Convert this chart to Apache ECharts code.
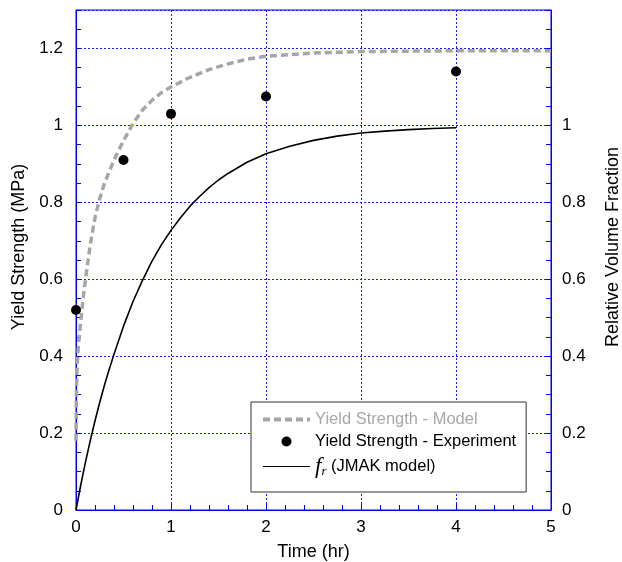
<!DOCTYPE html>
<html><head><meta charset="utf-8">
<script src="https://cdn.jsdelivr.net/npm/echarts/dist/echarts.min.js"></script>
<style>html,body{margin:0;padding:0;background:#fff}#c{width:622px;height:562px}</style>
</head><body><div id="c"></div>
<script>
const xTickLabels = ['0','1','2','3','4','5'];
const leftTickLabels = ['0','0.2','0.4','0.6','0.8','1','1.2'];
const rightTickLabels = ['0','0.2','0.4','0.6','0.8','1'];

const modelTime  = [0, 0.005, 0.01, 0.02, 0.03, 0.05, 0.075, 0.1, 0.15, 0.2, 0.25, 0.3, 0.4, 0.5, 0.6, 0.7, 0.8, 0.9, 1.0, 1.2, 1.4, 1.6, 1.8, 2.0, 2.5, 3.0, 3.5, 4.0, 4.5, 5.0];
const modelYield = [0.18, 0.31, 0.36, 0.41, 0.44, 0.49, 0.55, 0.60, 0.69, 0.76, 0.81, 0.85, 0.91, 0.96, 1.005, 1.04, 1.065, 1.085, 1.10, 1.125, 1.145, 1.16, 1.172, 1.18, 1.188, 1.192, 1.193, 1.194, 1.194, 1.194];

const expTime  = [0, 0.5, 1, 2, 4];
const expYield = [0.52, 0.91, 1.03, 1.075, 1.14];

const jmakTime     = [0, 0.05, 0.1, 0.15, 0.2, 0.25, 0.3, 0.35, 0.4, 0.5, 0.6, 0.7, 0.8, 0.9, 1.0, 1.1, 1.2, 1.3, 1.4, 1.5, 1.6, 1.8, 2.0, 2.25, 2.5, 2.75, 3.0, 3.25, 3.5, 3.75, 4.0];
const jmakFraction = [0, 0.065, 0.125, 0.18, 0.232, 0.28, 0.325, 0.366, 0.405, 0.478, 0.542, 0.597, 0.647, 0.69, 0.727, 0.76, 0.79, 0.815, 0.838, 0.858, 0.875, 0.904, 0.926, 0.946, 0.961, 0.972, 0.98, 0.985, 0.989, 0.992, 0.994];

const names = ['Yield Strength - Model', 'Yield Strength - Experiment', 'JMAK'];

function lookup(labels) {
  return function (v) {
    for (const s of labels) if (Math.abs(Number(s) - v) < 1e-6) return s;
    return '';
  };
}
function pairs(xs, ys) { return xs.map((x, i) => [x, ys[i]]); }

const BLUE = '#0000ff';
const FONT = 'Liberation Sans, Arial, Helvetica, sans-serif';
const GRIDC = '#1a1aff';
const CLEAR = 'rgba(0,0,0,0)';

const chart = echarts.init(document.getElementById('c'), null, { renderer: 'canvas' });
chart.setOption({
  animation: false,
  backgroundColor: '#fff',
  textStyle: { fontFamily: FONT },
  grid: { left: 76, right: 71, top: 10, bottom: 52, containLabel: false, outerBoundsMode: 'none',
          show: true, borderColor: BLUE, borderWidth: 1, backgroundColor: 'transparent' },
  legend: {
    orient: 'vertical', left: 251, top: 402,
    backgroundColor: '#fff', borderColor: '#333', borderWidth: 1,
    padding: [9, 10, 14, 10], itemWidth: 47, itemHeight: 10, itemGap: 5,
    textStyle: {
      fontFamily: FONT, fontSize: 16.5, color: '#000',
      rich: {
        f: { fontFamily: 'Liberation Serif, Times New Roman, serif', fontStyle: 'italic', fontSize: 23, color: '#000' },
        r: { fontFamily: 'Liberation Serif, Times New Roman, serif', fontStyle: 'italic', fontSize: 13, color: '#000', verticalAlign: 'bottom' },
        t: { fontFamily: FONT, fontSize: 16.5, color: '#000' }
      }
    },
    formatter: function (n) { return n === 'JMAK' ? '{f|f}{r|r}{t| (JMAK model)}' : n; },
    data: [
      { name: names[0], textStyle: { color: '#a8a8a8' }, itemStyle: { color: CLEAR, borderWidth: 0 },
        lineStyle: { color: '#a6a6a6', width: 4, type: [7, 4] } },
      { name: names[1], itemStyle: { color: '#000', opacity: 1 } },
      { name: names[2], itemStyle: { color: CLEAR, borderWidth: 0 }, lineStyle: { color: '#000', width: 1.2 } }
    ]
  },
  xAxis: {
    type: 'value', min: 0, max: 5, interval: 1,
    name: 'Time (hr)', nameLocation: 'middle', nameGap: 33,
    nameTextStyle: { fontSize: 18, color: '#000', fontFamily: FONT },
    axisLine: { lineStyle: { color: BLUE, width: 1 } },
    axisTick: { inside: true, length: 6, lineStyle: { color: BLUE } },
    minorTick: { show: true, splitNumber: 5, length: 5, lineStyle: { color: BLUE } },
    axisLabel: { fontSize: 17, color: '#000', margin: 9, formatter: lookup(xTickLabels) },
    splitLine: { show: true, lineStyle: { color: GRIDC, type: [2, 2], width: 1, opacity: 1 } }
  },
  yAxis: [
    {
      type: 'value', position: 'left', min: 0, max: 1.3, interval: 0.2,
      name: 'Yield Strength (MPa)', nameLocation: 'middle', nameGap: 47,
      nameTextStyle: { fontSize: 18, color: '#000', fontFamily: FONT, padding: [0, 0, 0, 26] },
      axisLine: { show: true, lineStyle: { color: BLUE, width: 1 } },
      axisTick: { show: false },
      axisLabel: { fontSize: 17, color: '#000', margin: 13, formatter: lookup(leftTickLabels) },
      splitLine: { show: true, lineStyle: { color: GRIDC, type: [2, 2], width: 1, opacity: 1 } }
    },
    {
      type: 'value', position: 'right', min: 0, max: 1.3, interval: 0.2,
      name: 'Relative Volume Fraction', nameLocation: 'middle', nameGap: 53,
      nameTextStyle: { fontSize: 18, color: '#000', fontFamily: FONT, padding: [0, 0, 0, 26] },
      axisLine: { show: true, lineStyle: { color: BLUE, width: 1 } },
      axisTick: { show: false },
      axisLabel: { fontSize: 17, color: '#000', margin: 11, formatter: lookup(rightTickLabels) },
      splitLine: { show: false }
    },
    {
      type: 'value', position: 'left', min: 0, max: 1.3, interval: 0.05,
      axisLine: { show: false }, axisLabel: { show: false }, splitLine: { show: false },
      axisTick: { show: true, inside: true, length: 5, lineStyle: { color: BLUE } }
    },
    {
      type: 'value', position: 'right', min: 0, max: 1.3, interval: 0.05,
      axisLine: { show: false }, axisLabel: { show: false }, splitLine: { show: false },
      axisTick: { show: true, inside: true, length: 5, lineStyle: { color: BLUE } }
    }
  ],
  series: [
    {
      name: names[0], type: 'line', yAxisIndex: 0, data: pairs(modelTime, modelYield),
      smooth: false, symbol: 'none', showSymbol: false,
      lineStyle: { color: '#a6a6a6', width: 3.5, type: [7, 4] }, itemStyle: { color: CLEAR }, z: 3
    },
    {
      name: names[1], type: 'scatter', yAxisIndex: 0, data: pairs(expTime, expYield),
      symbol: 'circle', symbolSize: 10, itemStyle: { color: '#000', opacity: 1 }, z: 4
    },
    {
      name: names[2], type: 'line', yAxisIndex: 1, data: pairs(jmakTime, jmakFraction),
      smooth: false, symbol: 'none', showSymbol: false,
      lineStyle: { color: '#000', width: 1.6 }, itemStyle: { color: CLEAR }, z: 3
    }
  ]
});
</script>
</body></html>
